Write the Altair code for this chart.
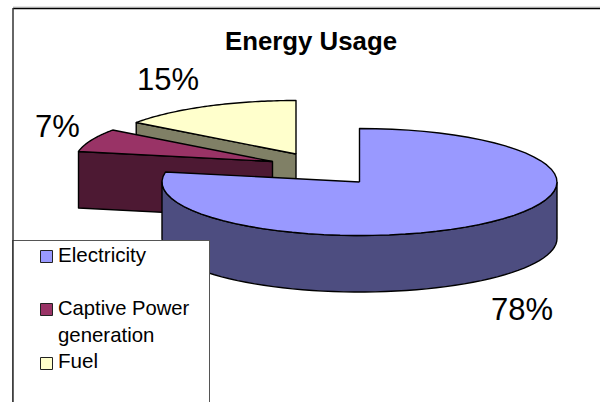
import numpy as np
import pandas as pd
import altair as alt

# Chart values
categories = ["Electricity", "Captive Power generation", "Fuel"]
shares = [78, 7, 15]
top_colors = ["#9999FF", "#993366", "#FFFFCC"]
side_colors = ["#4D4D80", "#4D1933", "#808066"]

WIDTH, HEIGHT = 600, 402
RX, RY, DEPTH = 197.5, 53.5, 56.5
# Pie centres of the exploded slices
centres = {"Electricity": (359.5, 182), "Captive Power generation": (272.5, 161.5), "Fuel": (296, 154)}

# Cumulative slice angles, clockwise from twelve o'clock
edges = np.cumsum([0] + shares) / sum(shares) * 2 * np.pi
spans = {c: (edges[i], edges[i + 1]) for i, c in enumerate(categories)}

x_scale = alt.Scale(domain=[0, WIDTH], range=[0, WIDTH])
y_scale = alt.Scale(domain=[0, HEIGHT], range=[0, HEIGHT])


def rim(centre, a0, a1, drop=0.0, n=60):
    t = np.linspace(a0, a1, n)
    return list(zip(centre[0] + RX * np.sin(t), centre[1] - RY * np.cos(t) + drop))


def shape(points, fill):
    frame = pd.DataFrame(points, columns=["x", "y"])
    frame["i"] = range(len(frame))
    return alt.Chart(frame).mark_line(
        fill=fill, stroke="#000000", strokeWidth=1.4, strokeJoin="round", clip=False
    ).encode(
        x=alt.X("x:Q", scale=x_scale, axis=None),
        y=alt.Y("y:Q", scale=y_scale, axis=None),
        order="i:Q",
    )


def top_face(cat, color):
    c = centres[cat]
    a0, a1 = spans[cat]
    return shape([c] + rim(c, a0, a1) + [c], color)


def radial_wall(cat, angle, color):
    c = centres[cat]
    p = rim(c, angle, angle, n=1)[0]
    return shape([p, c, (c[0], c[1] + DEPTH), (p[0], p[1] + DEPTH), p], color)


def outer_wall(cat, a0, a1, color):
    c = centres[cat]
    upper = rim(c, a0, a1)
    lower = rim(c, a1, a0, drop=DEPTH)
    return shape(upper + lower + [upper[0]], color)


elec, capt, fuel = categories
pie_layers = [
    radial_wall(fuel, spans[fuel][0], side_colors[2]),
    top_face(fuel, top_colors[2]),
    radial_wall(capt, spans[capt][0], side_colors[1]),
    top_face(capt, top_colors[1]),
    outer_wall(elec, np.pi / 2, 3 * np.pi / 2, side_colors[0]),
    top_face(elec, top_colors[0]),
]


def text_at(label, x, y, size, bold=False, align="left"):
    return alt.Chart(pd.DataFrame({"t": [label], "x": [x], "y": [y]})).mark_text(
        font="Liberation Sans", fontSize=size, fontWeight="bold" if bold else "normal",
        align=align, baseline="alphabetic", color="#000000",
    ).encode(
        x=alt.X("x:Q", scale=x_scale, axis=None),
        y=alt.Y("y:Q", scale=y_scale, axis=None),
        text="t:N",
    )


def rule(x0, y0, x1, y1, color, width):
    return alt.Chart(pd.DataFrame({"a": [0]})).mark_rule(color=color, strokeWidth=width).encode(
        x=alt.value(x0), x2=alt.value(x1), y=alt.value(y0), y2=alt.value(y1)
    )


# Chart border, open towards the right and bottom
border = [
    rule(13, 7, WIDTH, 7, "#c8c8c8", 1),
    rule(13, 8.5, WIDTH, 8.5, "#000000", 1.4),
    rule(13, 8, 13, HEIGHT, "#333333", 1.5),
]

# Legend panel
legend_bg = alt.Chart(pd.DataFrame({"a": [0]})).mark_rect(fill="#ffffff").encode(
    x=alt.value(13), x2=alt.value(209), y=alt.value(240), y2=alt.value(HEIGHT)
)
legend_edges = [
    rule(13, 240.5, 209, 240.5, "#555555", 1),
    rule(209.5, 240, 209.5, HEIGHT, "#555555", 1),
    rule(13, 240, 13, HEIGHT, "#333333", 1.5),
]
swatch_tops = [250, 303, 357]
swatches = [
    alt.Chart(pd.DataFrame({"a": [0]})).mark_rect(fill=col, stroke="#222222", strokeWidth=1).encode(
        x=alt.value(40.5), x2=alt.value(52.5), y=alt.value(t + 0.5), y2=alt.value(t + 12.5)
    )
    for t, col in zip(swatch_tops, top_colors)
]
legend_text = [
    text_at("Electricity", 58, 262, 20.6),
    text_at("Captive Power", 58, 315, 20.2),
    text_at("generation", 58, 342, 20.4),
    text_at("Fuel", 58, 368, 20.6),
]

labels = [
    text_at(f"{shares[0]}%", 491, 320, 31),
    text_at(f"{shares[1]}%", 35, 137, 31),
    text_at(f"{shares[2]}%", 137, 90, 31),
    text_at("Energy Usage", 225, 50, 25.8, bold=True),
]

chart = alt.layer(
    *pie_layers, *border, legend_bg, *legend_edges, *swatches, *legend_text, *labels
).properties(
    width=WIDTH, height=HEIGHT, padding=0, autosize=alt.AutoSizeParams(type="none"),
    background="#ffffff",
).configure_view(stroke=None)

chart.save("out.html", embed_options={"renderer": "svg", "actions": False})
